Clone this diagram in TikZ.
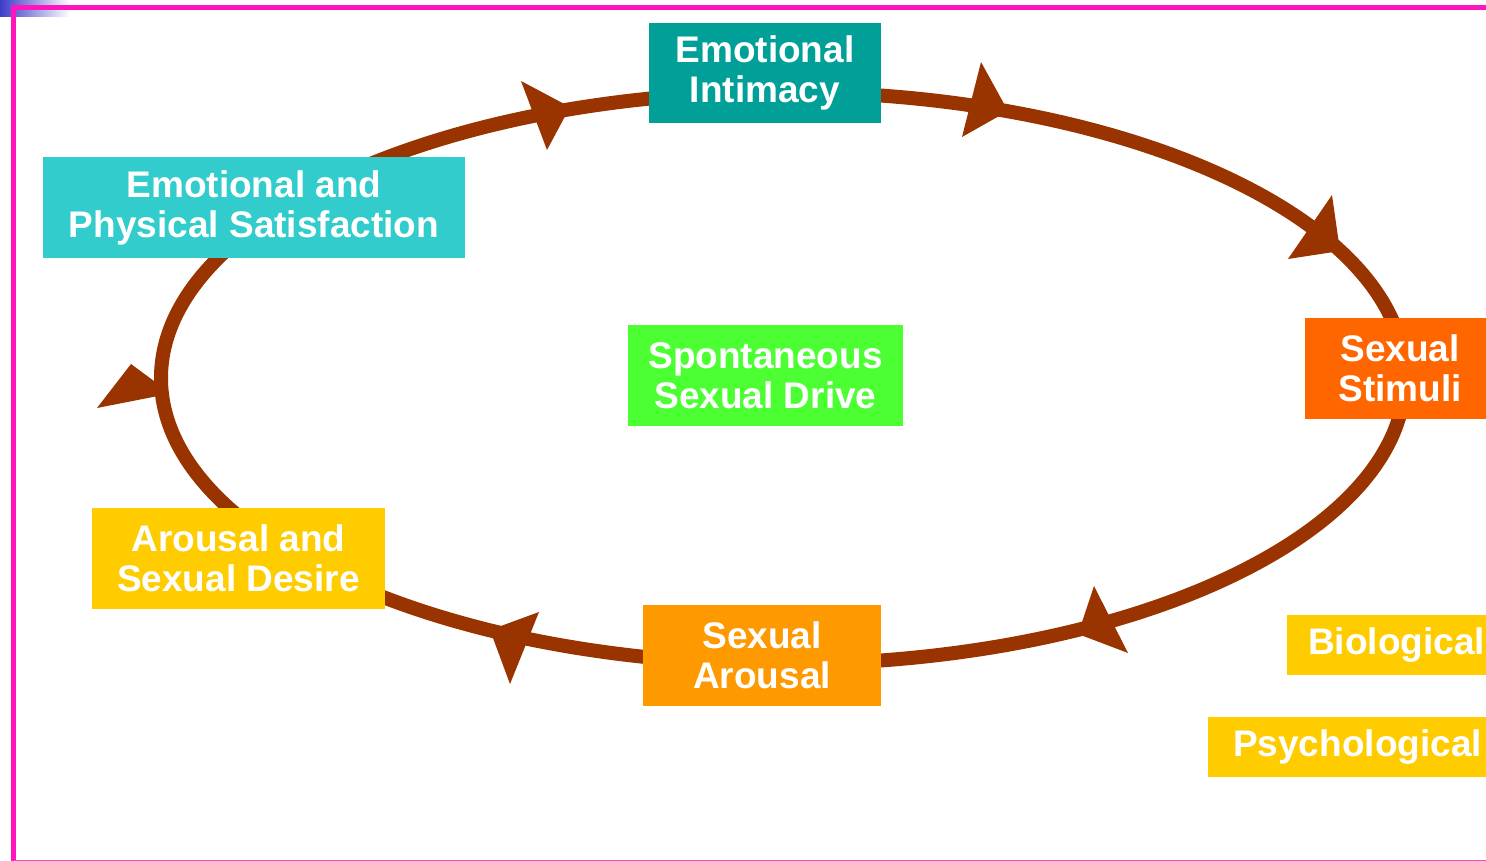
\documentclass[tikz,border=0pt]{standalone}
\usepackage{fontspec}
\setmainfont{Liberation Sans}
\definecolor{ring}{HTML}{993300}
\definecolor{pinkb}{HTML}{FF14BE}
\definecolor{teal1}{HTML}{00A099}
\definecolor{teal2}{HTML}{33CCCC}
\definecolor{green1}{HTML}{4CFF33}
\definecolor{orange1}{HTML}{FF6600}
\definecolor{orange2}{HTML}{FF9900}
\definecolor{yellow1}{HTML}{FFCC00}
\definecolor{blueg}{HTML}{3C3CC8}
\tikzset{
  box/.style={inner sep=0pt, outer sep=0pt, text=white, align=center,
    font=\fontsize{37}{40}\selectfont\bfseries, minimum height=101pt},
  head/.style={fill=ring, draw=none},
}
\begin{document}
\begin{tikzpicture}[x=1pt,y=-1pt]
\useasboundingbox (0,0) rectangle (1486,861);
% corner gradient
\shade[left color=blueg, right color=white, draw=none] (0,0) rectangle (70,17);
% border
\draw[pinkb, line width=5pt] (13.5,7.5) -- (1600,7.5);
\draw[pinkb, line width=5pt] (13.5,5) -- (13.5,870);
\draw[pinkb!80, line width=3pt] (13.5,861) -- (1600,861);
% ring
\coordinate (c) at (783,378);
\draw[ring, line width=14pt] (c) ellipse [x radius=622pt, y radius=286pt];
% arrowheads
\fill[head] (521,81) -- (570,107) -- (547,150) -- cycle;
\fill[head] (981,62) -- (1008,111) -- (962,137) -- cycle;
\fill[head] (1332,195) -- (1340,251) -- (1288,259) -- cycle;
\fill[head] (1094,586) -- (1078,634) -- (1128,653) -- cycle;
\fill[head] (539,612) -- (490,630) -- (510,684) -- cycle;
\fill[head] (131,364) -- (158,384) -- (158,396) -- (97,408) -- cycle;
% boxes
\node[box, fill=teal1, minimum width=232pt, minimum height=100pt] (ei) at (765,73) {Emotional\\Intimacy};
\node[box, fill=teal2, minimum width=422pt] (eps) at (254,207.5) {Emotional and\\Physical Satisfaction};
\node[box, fill=green1, minimum width=275pt] (ssd) at (765.5,375.5) {Spontaneous\\Sexual Drive};
\node[box, fill=orange1, minimum width=190pt] (ss) at (1400,368.5) {Sexual\\Stimuli};
\node[box, fill=yellow1, minimum width=293pt] (asd) at (238.5,558.5) {Arousal and\\Sexual Desire};
\node[box, fill=orange2, minimum width=238pt] (sa) at (762,655.5) {Sexual\\Arousal};
\node[box, fill=yellow1, minimum width=219pt, minimum height=60pt] (bio) at (1396.5,645) {Biological};
\node[box, fill=yellow1, minimum width=299pt, minimum height=60pt] (psy) at (1357.5,747) {Psychological};
\end{tikzpicture}
\end{document}
